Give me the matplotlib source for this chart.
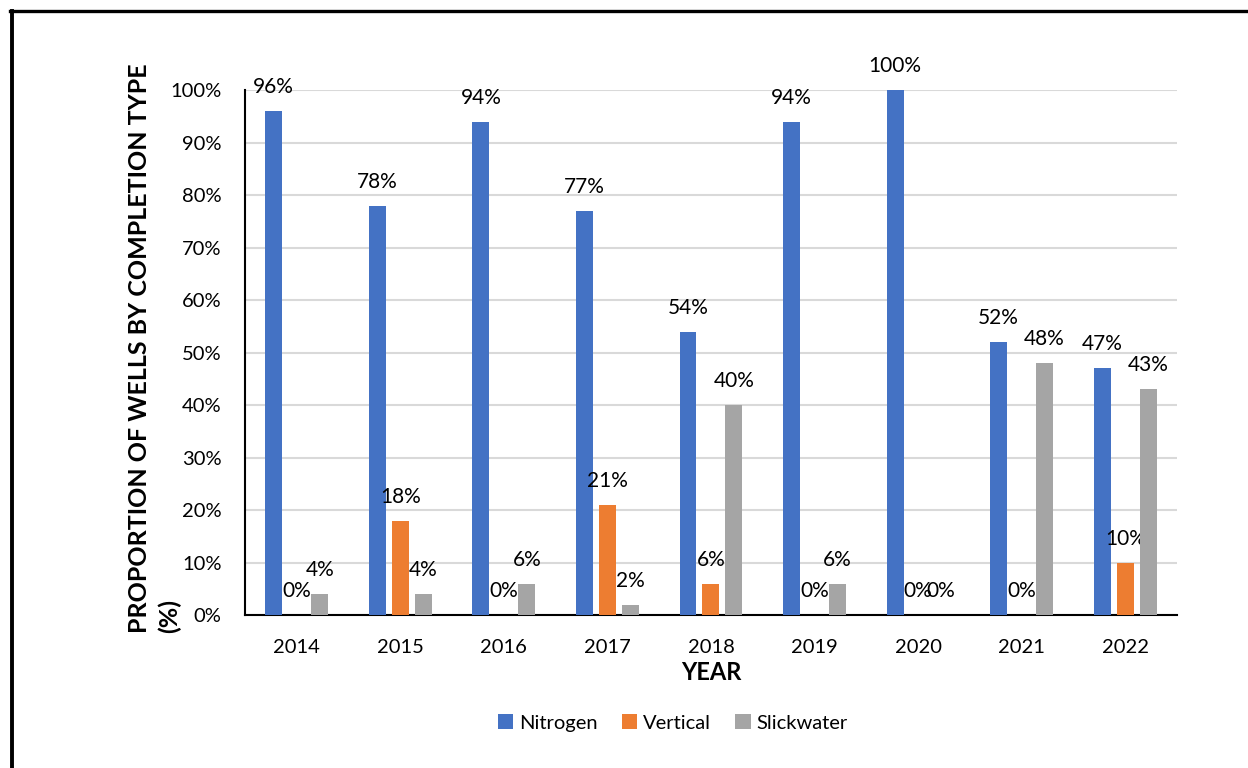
import numpy as np
import matplotlib.pyplot as plt
from matplotlib.lines import Line2D

plt.rcParams['font.family'] = ['Lato', 'DejaVu Sans']

years = ['2014', '2015', '2016', '2017', '2018', '2019', '2020', '2021', '2022']
nitrogen = [96, 78, 94, 77, 54, 94, 100, 52, 47]
vertical = [0, 18, 0, 21, 6, 0, 0, 0, 10]
slickwater = [4, 4, 6, 2, 40, 6, 0, 48, 43]

series = [('Nitrogen', nitrogen, '#4472C4'),
          ('Vertical', vertical, '#ED7D31'),
          ('Slickwater', slickwater, '#A5A5A5')]

fig = plt.figure(figsize=(12.48, 7.68), dpi=100)
ax = fig.add_axes([0.1963, 0.1992, 0.7468, 0.6836])

x = np.arange(len(years))
step = 0.222
width = 0.164
for i, (name, vals, color) in enumerate(series):
    pos = x + (i - 1) * step
    bars = ax.bar(pos, vals, width=width, color=color, label=name, zorder=3)
    for b, v in zip(bars, vals):
        ax.annotate(f'{v}%', (b.get_x() + b.get_width() / 2, v),
                    xytext=(0, 10), textcoords='offset points',
                    ha='center', va='bottom', fontsize=15, color='black')

ax.set_xlim(-0.5, len(years) - 0.5)
ax.set_ylim(0, 100)
ax.set_yticks(np.arange(0, 101, 10))
ax.set_yticklabels([f'{t}%' for t in range(0, 101, 10)])
ax.set_xticks(x)
ax.set_xticklabels(years)
ax.tick_params(axis='both', length=0, labelsize=14.5, colors='black')
ax.tick_params(axis='y', pad=17)
ax.tick_params(axis='x', pad=17)

ax.grid(axis='y', color='#D9D9D9', linewidth=1.5, zorder=0)
ax.set_axisbelow(True)
for side in ['top', 'right']:
    ax.spines[side].set_visible(False)
for side in ['left', 'bottom']:
    ax.spines[side].set_color('black')
    ax.spines[side].set_linewidth(1.5)

ax.set_xlabel('YEAR', fontsize=17, fontweight='bold', labelpad=4)
ax.set_ylabel('PROPORTION OF WELLS BY COMPLETION TYPE\n(%)', fontsize=18,
              fontweight='bold', multialignment='left', linespacing=1.35)
ax.yaxis.set_label_coords(-0.068, 0.509)

fig.legend(loc='center', bbox_to_anchor=(673 / 1248, 1 - 723 / 768), ncol=3,
           frameon=False, fontsize=14.5, handlelength=0.75, handleheight=0.75,
           handletextpad=0.3, columnspacing=1.2)

# outer frame lines on the left and top edges
fig.add_artist(Line2D([11.5 / 1248, 11.5 / 1248], [0, 1 - 10.5 / 768],
                      color='black', linewidth=2.8, transform=fig.transFigure))
fig.add_artist(Line2D([10 / 1248, 1], [1 - 10.5 / 768, 1 - 10.5 / 768],
                      color='black', linewidth=2.4, transform=fig.transFigure))

fig.savefig('out.png', dpi=100)
